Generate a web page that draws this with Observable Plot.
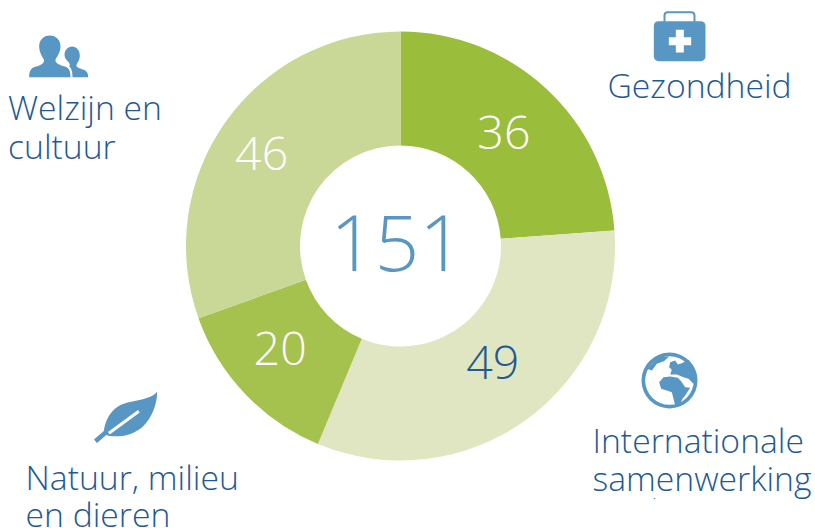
<!DOCTYPE html>
<html><head><meta charset="utf-8">
<script src="https://cdn.jsdelivr.net/npm/d3@7"></script>
<script src="https://cdn.jsdelivr.net/npm/@observablehq/plot@0.6"></script>
<style>html,body{margin:0;padding:0;background:#fff;overflow:hidden}svg{display:block}</style>
</head><body><div id="chart"></div>
<script>
const categories = ["Gezondheid","Internationale samenwerking","Natuur, milieu en dieren","Welzijn en cultuur"];
const values = [36,49,20,46];
const total = 151;
const sliceColors = ["#9bbd3c","#dfe6c1","#a6c24e","#c9d897"];
const valueColors = ["#ffffff","#1f5a94","#ffffff","#ffffff"];

const W = 815, H = 528;
const centre = {x:400.5, y:246}, outerR = 214.5, innerR = 100.5;

const pie = d3.pie().sort(null)(values);
const arcPath = d3.arc().innerRadius(innerR).outerRadius(outerR);
const slices = pie.map((p,i)=>({...p, category:categories[i], color:sliceColors[i], textColor:valueColors[i]}));
const labelR = 157;
const labelNudge = [[-4,1],[0,-12],[-7,-6],[-11,-3]];
const sliceLabels = slices.map((s,i)=>{
  const a=(s.startAngle+s.endAngle)/2;
  return {...s, x:centre.x+labelR*Math.sin(a)+labelNudge[i][0], y:centre.y-labelR*Math.cos(a)+2+labelNudge[i][1]};
});

const titleLines = [
  {t:"Gezondheid", x:607, y:87},
  {t:"Welzijn en", x:7.5, y:109},
  {t:"cultuur", x:7.5, y:148},
  {t:"Natuur, milieu", x:25, y:479},
  {t:"en dieren", x:25, y:516},
  {t:"Internationale", x:592, y:442},
  {t:"samenwerking", x:592, y:480}
];

const ic = "#5897c4";
const svgUri = (w,h,body)=>"data:image/svg+xml,"+encodeURIComponent(`<svg xmlns="http://www.w3.org/2000/svg" width="${w}" height="${h}" viewBox="0 0 ${w} ${h}">${body}</svg>`);
const icons = [
  {x:680,y:35,w:80,h:70,src:svgUri(240,210,`<path d="M72 64V45Q72 35 82 35H152Q162 35 162 45V64" fill="none" stroke="${ic}" stroke-width="6"/><rect x="40" y="62" width="155" height="120" rx="14" fill="${ic}"/><path d="M106 88H130V110H152V134H130V156H106V134H85V110H106Z" fill="#fff"/>`)},
  {x:60,y:55,w:80,h:60,src:svgUri(240,180,`<path d="M88 30C108 30 120 45 120 62C120 80 110 92 105 102C103 112 115 118 130 122C143 126 150 130 150 155L26 155C26 130 35 126 50 122C65 118 72 112 70 102C65 92 56 80 56 62C56 45 68 30 88 30Z" fill="${ic}"/><path d="M155 63C168 63 178 75 178 90C178 103 172 110 168 118C167 126 175 128 185 131C197 135 203 140 203 155L156 155C156 135 152 128 146 122C150 118 147 115 145 110C138 105 132 98 132 88C132 74 142 63 155 63Z" fill="${ic}"/>`)},
  {x:127.500,y:415,w:85,h:70,src:svgUri(255,210,`<path d="M215 33C205 50 170 58 130 65C95 72 65 95 55 150L65 165C100 172 140 165 170 140C200 112 215 70 215 33Z" fill="${ic}"/><path d="M30 182L70 148" stroke="${ic}" stroke-width="14"/><path d="M70 158L160 92" stroke="#fff" stroke-width="9"/>`)},
  {x:669,y:380,w:62,h:60,src:svgUri(186,180,`<circle cx="93" cy="90" r="84" fill="${ic}"/><circle cx="93" cy="90" r="73" fill="#fff"/><path d="M25 55L60 20L92 18L76 32L55 40L40 60Z" fill="${ic}"/><path d="M95 35L110 30L118 42L130 38L150 28L165 50L174 90L165 100L150 85L135 80L115 72L95 72L100 58L92 50Z" fill="${ic}"/><path d="M62 95L75 80L95 78L118 82L128 92L140 110L155 112L140 135L132 145L125 160L110 165L105 145L100 125L85 120L68 115Z" fill="${ic}"/>`)}
];
const speck = [{x:654,y:498}];

const chart = Plot.plot({
  width:W, height:H, margin:0,
  x:{domain:[0,W],range:[0,W],axis:null},
  y:{domain:[0,H],range:[0,H],axis:null},
  style:{background:"#fff",fontFamily:"'Open Sans'",overflow:"visible"},
  marks:[
    Plot.dot(slices,{
      x:()=>centre.x, y:()=>centre.y,
      render(index,scales,vals,dims,ctx){
        const g=d3.select(ctx.document.createElementNS("http://www.w3.org/2000/svg","g"));
        g.attr("aria-label","donut slices");
        for(const i of index){
          g.append("path")
           .attr("d",arcPath(slices[i]))
           .attr("transform",`translate(${scales.x(centre.x)},${scales.y(centre.y)})`)
           .attr("fill",slices[i].color)
           .append("title").text(`${slices[i].category}: ${slices[i].value}`);
        }
        return g.node();
      }
    }),
    Plot.text(sliceLabels,{x:"x",y:"y",text:d=>String(d.value),fill:"textColor",fontSize:46.5,fontWeight:300,fontFamily:"'Open Sans'"}),
    Plot.text([total],{x:()=>centre.x-4,y:()=>centre.y,text:d=>String(d),fill:"#5897c4",fontSize:78,fontWeight:300,fontFamily:"'Open Sans'"}),
    Plot.text(titleLines,{x:"x",y:"y",text:"t",textAnchor:"start",lineAnchor:"bottom",fill:"#1f5a94",fontSize:33.7,fontWeight:300,fontFamily:"'Open Sans'",dy:10}),
    Plot.image(icons,{x:"x",y:"y",width:"w",height:"h",src:"src"}),
    Plot.dot(speck,{x:"x",y:"y",r:0.8,fill:ic})
  ]
});
document.getElementById("chart").append(chart);
</script></body></html>
